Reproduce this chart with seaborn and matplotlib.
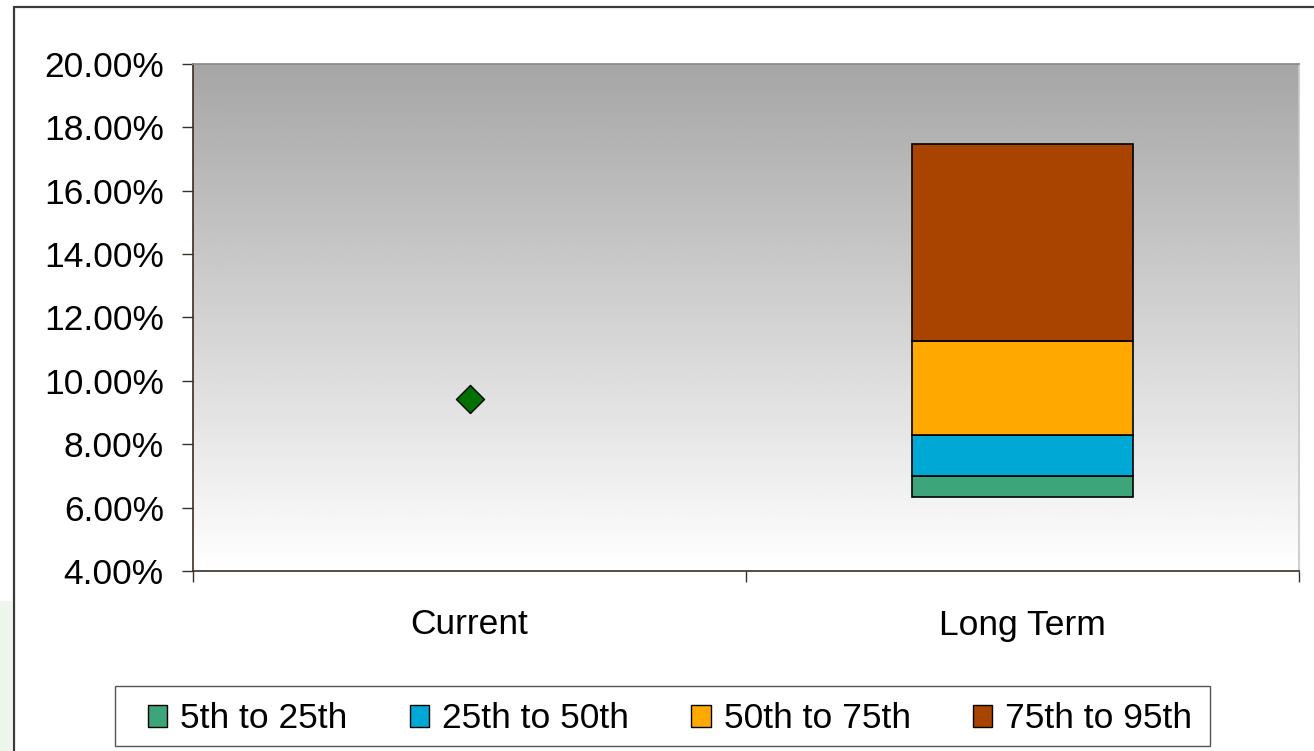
import numpy as np
import matplotlib
matplotlib.use("Agg")
import matplotlib.pyplot as plt
from matplotlib.patches import Patch, Rectangle
from matplotlib.lines import Line2D
import seaborn as sns

# Data (values in percent)
categories = ["Current", "Long Term"]
band_labels = ["5th to 25th", "25th to 50th", "50th to 75th", "75th to 95th"]
band_edges = [6.32, 7.00, 8.30, 11.25, 17.49]   # percentile boundaries for the long-term range
band_colors = ["#3DA57A", "#00A8D6", "#FFA800", "#A84300"]
current_value = [9.43]
y_ticks = [4, 6, 8, 10, 12, 14, 16, 18, 20]

sns.set_theme(style="white")
plt.rcParams["font.family"] = ["Liberation Sans", "DejaVu Sans"]

W, H = 1314, 751
fig = plt.figure(figsize=(W / 100, H / 100), dpi=100)
fig.patch.set_facecolor("white")
ax = fig.add_axes([193 / W, 180 / H, 1106 / W, 507 / H])

# Grey-to-white vertical gradient for the plot area
grad = np.linspace(0.65, 1.0, 256).reshape(-1, 1)
ax.imshow(grad, extent=[-0.5, 1.5, 4, 20], aspect="auto", cmap="gray",
          vmin=0, vmax=1, zorder=0, interpolation="bicubic")

# Stacked percentile bands for the long-term range
for i, (lab, col) in enumerate(zip(band_labels, band_colors)):
    sns.barplot(x=["Long Term"], y=[band_edges[i + 1] - band_edges[i]],
                bottom=band_edges[i], order=categories, width=0.4,
                color=col, saturation=1, edgecolor="black", linewidth=1.2,
                errorbar=None, ax=ax, zorder=2)

# Current value marker
sns.stripplot(x=["Current"], y=current_value, order=categories, jitter=False,
              marker="D", size=14.3, color="#007000", edgecolor="black",
              linewidth=1, ax=ax, zorder=3)

ax.set_xlim(-0.5, 1.5)
ax.set_ylim(4, 20)
ax.set_xlabel("")
ax.set_ylabel("")

spine_col = "#3b2e22"
ax.spines["left"].set_color(spine_col)
ax.spines["bottom"].set_color(spine_col)
ax.spines["left"].set_linewidth(1.2)
ax.spines["bottom"].set_linewidth(1.2)
ax.spines["top"].set_color("#8a8a8a")
ax.spines["right"].set_color("#c8c8c8")
for s in ax.spines.values():
    s.set_zorder(4)

ax.set_yticks(y_ticks, [f"{v:.2f}%" for v in y_ticks])
ax.tick_params(axis="y", left=True, length=8, width=1, color=spine_col,
               pad=13, labelsize=25.5, labelcolor="black")

ax.set_xticks([0, 1], categories)
ax.tick_params(axis="x", which="major", bottom=True, length=0, pad=27,
               labelsize=25.5, labelcolor="black")
ax.set_xticks([-0.5, 0.5, 1.5], minor=True)
ax.tick_params(axis="x", which="minor", bottom=True, length=8, width=1,
               color=spine_col)

# Legend (frame drawn separately as a box)
handles = [Patch(facecolor=c, edgecolor="black", linewidth=1) for c in band_colors]
leg = fig.legend(handles, band_labels, loc="center",
                 bbox_to_anchor=(670 / W, 32 / H), ncol=4, fontsize=25.5,
                 frameon=False,
                 handlelength=0.55, handleheight=0.55, handletextpad=0.37,
                 columnspacing=1.75, borderpad=0.35)
for t in leg.get_texts():
    t.set_color("black")
fig.add_artist(Rectangle((115 / W, 5 / H), 1095 / W, 60 / H,
                         transform=fig.transFigure, facecolor="none",
                         edgecolor="#555555", linewidth=1.0))

# Outer frame lines (left and top)
fig.add_artist(Line2D([14 / W, 14 / W], [0, 1 - 7 / H], transform=fig.transFigure,
                      color="#3a3a3a", lw=1.6))
fig.add_artist(Line2D([14 / W, 1], [1 - 7 / H, 1 - 7 / H], transform=fig.transFigure,
                      color="#3a3a3a", lw=1.6))
# faint decorative tint at the lower-left margin
fig.add_artist(Rectangle((0, 0), 12 / W, 150 / H, transform=fig.transFigure,
                         facecolor="#eef5ec", edgecolor="none", zorder=0))

fig.savefig("out.png", dpi=100)
